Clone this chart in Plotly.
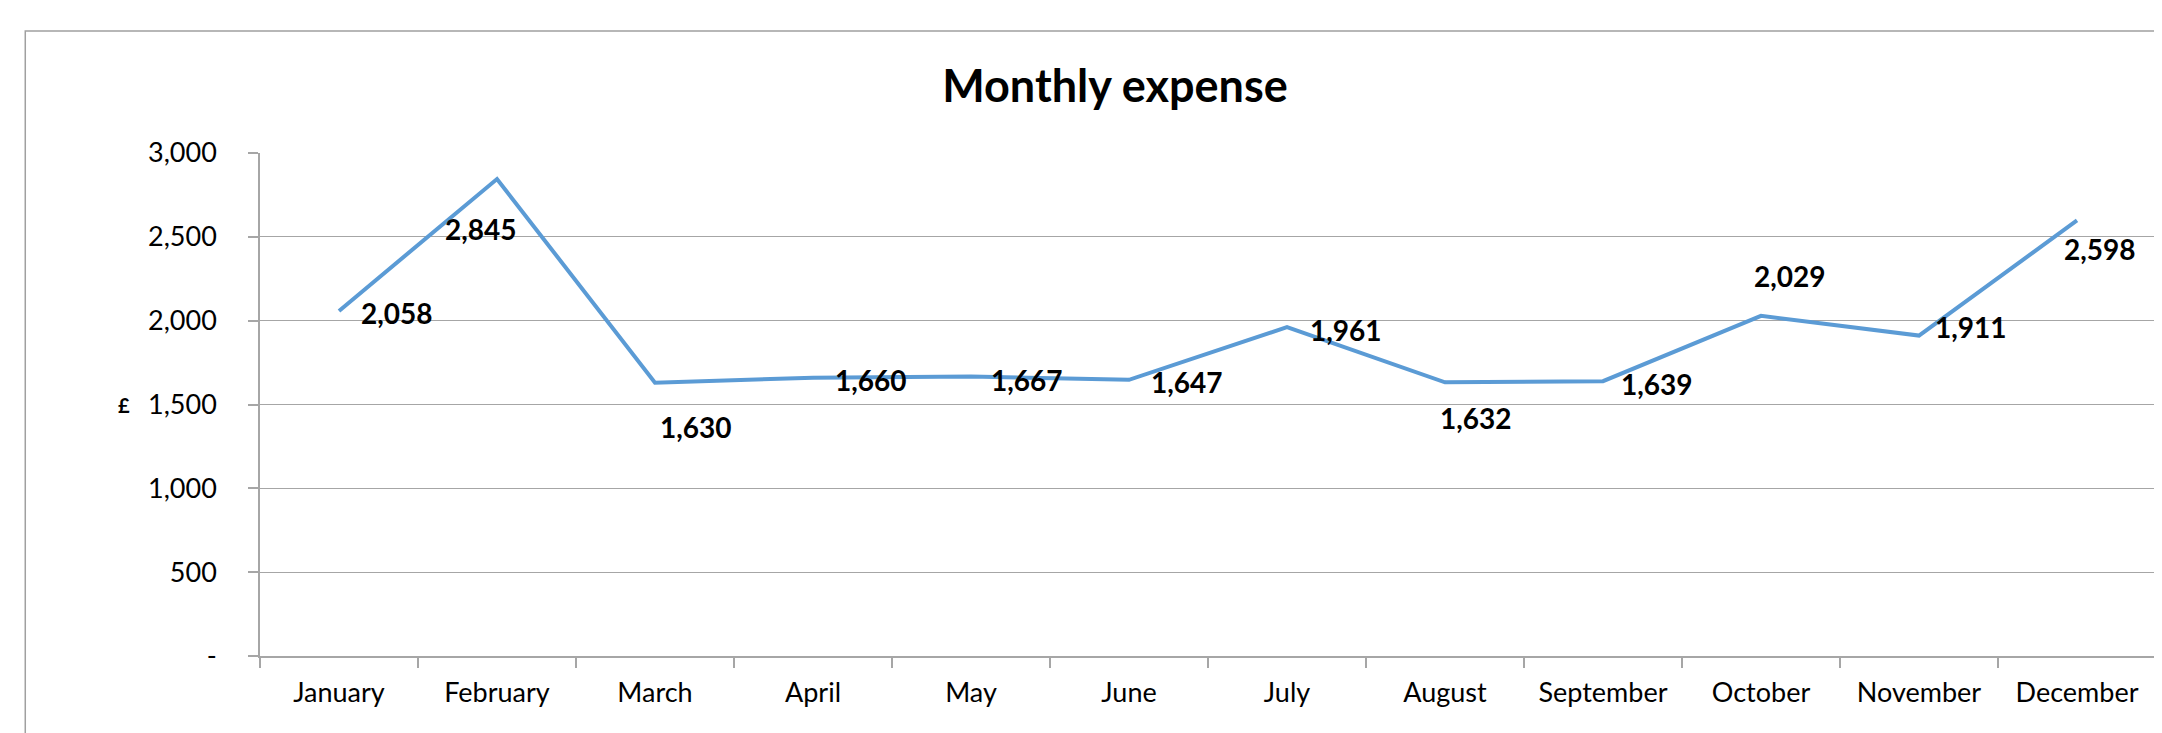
import plotly.graph_objects as go

# ---- data ----
months = ["January", "February", "March", "April", "May", "June", "July",
          "August", "September", "October", "November", "December"]
expense = [2058, 2845, 1630, 1660, 1667, 1647, 1961, 1632, 1639, 2029, 1911, 2598]
y_tick_values = [0, 500, 1000, 1500, 2000, 2500, 3000]
y_tick_labels = ["-", "500", "1,000", "1,500", "2,000", "2,500", "3,000"]
title_text = "Monthly expense"
y_title = "£"

# ---- label placement (pixel offsets from each point: right, down) ----
label_offsets = [(58, 2), (-16, 50), (41, 44), (58, 2), (56, 3), (58, 2),
                 (59, 3), (31, 36), (54, 3), (29, -40), (52, -9), (23, 29)]

FONT = "Lato, Carlito, Calibri, sans-serif"
GRID = "#A6A6A6"

fig = go.Figure()
fig.add_trace(go.Scatter(
    x=months, y=expense, mode="lines",
    line=dict(color="#5B9BD5", width=4),
    hoverinfo="x+y", showlegend=False,
))

for m, v, (dx, dy) in zip(months, expense, label_offsets):
    fig.add_annotation(
        x=m, y=v, xref="x", yref="y", text=f"<b>{v:,}</b>",
        showarrow=False, xanchor="center", yanchor="middle",
        xshift=dx, yshift=-dy,
        font=dict(family=FONT, size=28, color="black"),
    )

# y axis title "£"
fig.add_annotation(
    x=-0.0717, y=0.5, xref="paper", yref="paper", text=f"<b>{y_title}</b>",
    showarrow=False, xanchor="center", yanchor="middle",
    font=dict(family=FONT, size=20, color="black"),
)

# outer chart border (left and top edges visible)
fig.add_shape(
    type="path", xref="paper", yref="paper",
    path="M -0.1238 -0.5 L -0.1238 1.2425 L 1.2 1.2425",
    line=dict(color="#A0A0A0", width=1.5),
)

fig.update_layout(
    width=2162, height=733,
    margin=dict(l=252, r=12, t=145, b=85),
    paper_bgcolor="white", plot_bgcolor="white",
    font=dict(family=FONT, size=28, color="black"),
    title=dict(text=f"<b>{title_text}</b>", x=0.512, xanchor="center",
               y=1 - 78 / 733, yanchor="middle",
               font=dict(family=FONT, size=45, color="black")),
)

fig.update_xaxes(
    type="category", range=[-0.5, 11.5],
    showgrid=False, showline=True, linecolor=GRID, linewidth=1.5,
    ticks="outside", tickson="boundaries", ticklen=10, tickcolor=GRID, tickwidth=1.5,
    ticklabelstandoff=12,
    tickfont=dict(family=FONT, size=27, color="black"),
    fixedrange=True,
)
fig.update_yaxes(
    range=[0, 3000], tickvals=y_tick_values, ticktext=y_tick_labels,
    showgrid=True, gridcolor=GRID, gridwidth=1.2,
    showline=True, linecolor=GRID, linewidth=1.5, mirror=True,
    ticks="outside", ticklen=10, tickcolor=GRID, tickwidth=1.5,
    ticklabelstandoff=26,
    tickfont=dict(family=FONT, size=27, color="black"),
    zeroline=False, fixedrange=True,
)

fig.write_html("out.html")
